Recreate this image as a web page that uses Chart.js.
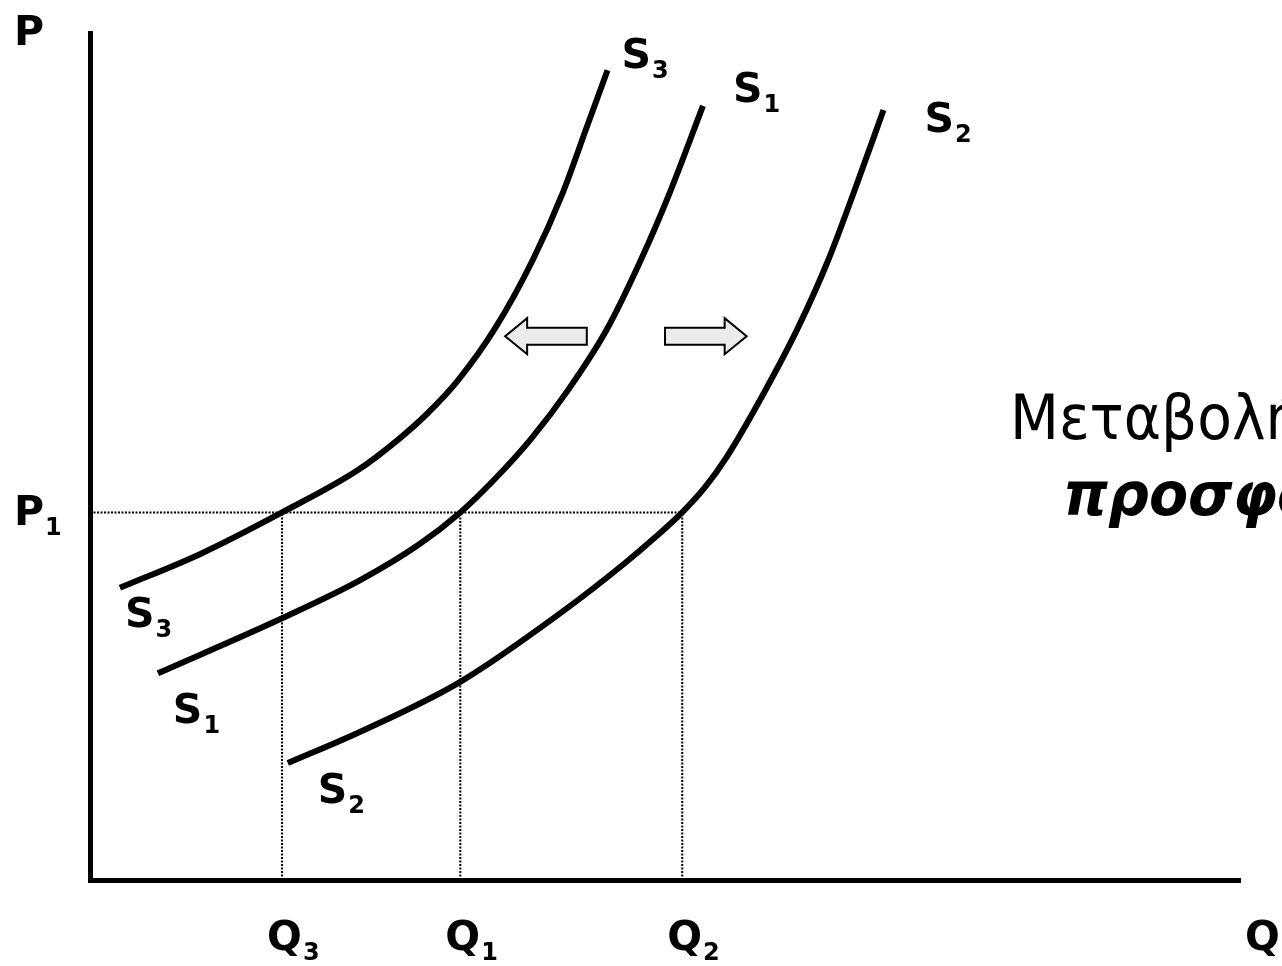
<!DOCTYPE html>
<html>
<head>
<meta charset="utf-8">
<script src="https://cdn.jsdelivr.net/npm/chart.js@4/dist/chart.umd.min.js"></script>
<style>
  html, body { margin: 0; padding: 0; background: #fff; }
  canvas { display: block; }
</style>
</head>
<body>
<canvas id="supply" width="1282" height="966"></canvas>
<script>
// ------------------------------------------------------
// Supply curves (quantity / price, 0-100 units)
// ------------------------------------------------------

const qS3 = [2.6, 9.6, 16.7, 23.3, 26.8, 29.2, 32.0, 35.3, 38.5, 41.1, 43.2, 45.0];
const pS3 = [34.5, 38.5, 43.4, 48.4, 52.0, 54.9, 59.0, 65.3, 73.2, 81.1, 88.9, 95.6];

const qS1 = [5.9, 16.7, 23.5, 28.6, 32.2, 35.1, 38.3, 41.6, 44.9, 47.9, 50.4, 53.3];
const pS1 = [24.4, 30.9, 35.4, 39.6, 43.4, 47.2, 52.0, 57.9, 64.9, 73.2, 81.1, 91.4];

const qS2 = [17.2, 23.5, 32.2, 40.9, 46.5, 49.1, 51.5, 53.5, 55.3, 58.6, 61.6, 64.2, 66.4, 69.0];
const pS2 = [13.8, 17.5, 23.4, 31.5, 37.4, 40.4, 43.4, 46.4, 49.8, 57.5, 65.3, 73.2, 81.1, 90.9];

// price level and the three quantities supplied at it
const priceP1 = 43.4;
const qTicks = [16.7, 32.2, 51.5];
const qTickSubs = ["3", "1", "2"];

const curveSubs = ["3", "1", "2"];

// shift arrows: [from, to] in quantity units, at a price level
const arrowPrice = 64.2;
const shiftArrows = [[43.2, 36.1], [50.0, 57.1]];

// ------------------------------------------------------
// Helpers
// ------------------------------------------------------

const zip = (xs, ys) => xs.map((x, i) => ({ x: x, y: ys[i] }));

const curve = (xs, ys) => ({
    data: zip(xs, ys),
    borderColor: "#000",
    borderWidth: 6,
    pointRadius: 0,
    cubicInterpolationMode: "monotone",
    borderCapStyle: "butt"
});

const guide = (pts) => ({
    data: pts,
    borderColor: "#000",
    borderWidth: 2,
    borderDash: [2, 1.5],
    pointRadius: 0,
    tension: 0
});

const BOLD = "bold 41px 'DejaVu Sans'";
const SUB = "bold 24px 'DejaVu Sans'";

function subLabel(ctx, main, sub, x, y) {
    ctx.font = BOLD;
    ctx.fillText(main, x, y);
    const w = ctx.measureText(main).width;
    if (sub) {
        ctx.font = SUB;
        ctx.fillText(sub, x + w + 1, y + 10);
    }
}

// ------------------------------------------------------
// Labels, arrows and caption
// ------------------------------------------------------

const annotations = {
    id: "annotations",
    afterDatasetsDraw(chart) {
        const ctx = chart.ctx;
        const xs = chart.scales.x;
        const ys = chart.scales.y;
        const px = (v) => xs.getPixelForValue(v);
        const py = (v) => ys.getPixelForValue(v);

        ctx.save();
        ctx.fillStyle = "#000";
        ctx.textBaseline = "alphabetic";
        ctx.textAlign = "left";

        // axis names
        subLabel(ctx, "P", null, 14, 45);
        subLabel(ctx, "P", "1", 14, py(priceP1) + 13);
        subLabel(ctx, "Q", null, 1245, 950);

        qTicks.forEach((q, i) => {
            subLabel(ctx, "Q", qTickSubs[i], px(q) - 15, 950);
        });

        // curve names at both ends
        const curves = [[qS3, pS3], [qS1, pS1], [qS2, pS2]];
        const topOff = [[14, -2], [30, -4], [41, 22]];
        const lowOff = [[5, 39], [15, 50], [30, 40]];

        curves.forEach((c, i) => {
            const n = c[0].length - 1;
            subLabel(ctx, "S", curveSubs[i],
                px(c[0][n]) + topOff[i][0], py(c[1][n]) + topOff[i][1]);
            subLabel(ctx, "S", curveSubs[i],
                px(c[0][0]) + lowOff[i][0], py(c[1][0]) + lowOff[i][1]);
        });

        // hollow shift arrows
        const ay = py(arrowPrice);
        shiftArrows.forEach(([from, to]) => {
            const x0 = px(from);
            const x1 = px(to);
            const dir = Math.sign(x1 - x0);
            const hx = x1 - dir * 22;
            ctx.beginPath();
            ctx.moveTo(x0, ay - 8.5);
            ctx.lineTo(hx, ay - 8.5);
            ctx.lineTo(hx, ay - 18);
            ctx.lineTo(x1, ay);
            ctx.lineTo(hx, ay + 18);
            ctx.lineTo(hx, ay + 8.5);
            ctx.lineTo(x0, ay + 8.5);
            ctx.closePath();
            ctx.fillStyle = "#ebebeb";
            ctx.fill();
            ctx.lineWidth = 2;
            ctx.strokeStyle = "#000";
            ctx.stroke();
        });

        // caption (slightly narrowed)
        ctx.fillStyle = "#000";
        ctx.save();
        ctx.translate(1010, 439);
        ctx.scale(0.9, 1);
        ctx.font = "63px 'DejaVu Sans'";
        ctx.fillText("Μεταβολή της", 0, 0);
        ctx.restore();
        ctx.save();
        ctx.translate(1063, 515);
        ctx.scale(0.95, 1);
        ctx.font = "italic bold 60px 'DejaVu Sans'";
        ctx.fillText("προσφοράς", 0, 0);
        ctx.restore();

        ctx.restore();
    }
};

// ------------------------------------------------------
// Chart
// ------------------------------------------------------

const guides = [
    guide([{ x: 0, y: priceP1 }, { x: qTicks[2], y: priceP1 }])
].concat(qTicks.map((q) => guide([{ x: q, y: 0 }, { x: q, y: priceP1 }])));

new Chart(
    document.getElementById("supply"),
    {
        type: "line",
        data: {
            datasets: guides.concat([
                curve(qS3, pS3),
                curve(qS1, pS1),
                curve(qS2, pS2)
            ])
        },
        options: {
            responsive: false,
            animation: false,
            layout: {
                padding: { left: 90, right: 42, top: 33, bottom: 86 }
            },
            plugins: {
                legend: { display: false },
                tooltip: { enabled: false }
            },
            scales: {
                x: {
                    type: "linear",
                    min: 0,
                    max: 100,
                    grid: { display: false, drawTicks: false },
                    ticks: { display: false },
                    border: { display: true, width: 5, color: "#000" }
                },
                y: {
                    type: "linear",
                    min: 0,
                    max: 100,
                    grid: { display: false, drawTicks: false },
                    ticks: { display: false },
                    border: { display: true, width: 5, color: "#000" }
                }
            }
        },
        plugins: [annotations]
    }
);
</script>
</body>
</html>
